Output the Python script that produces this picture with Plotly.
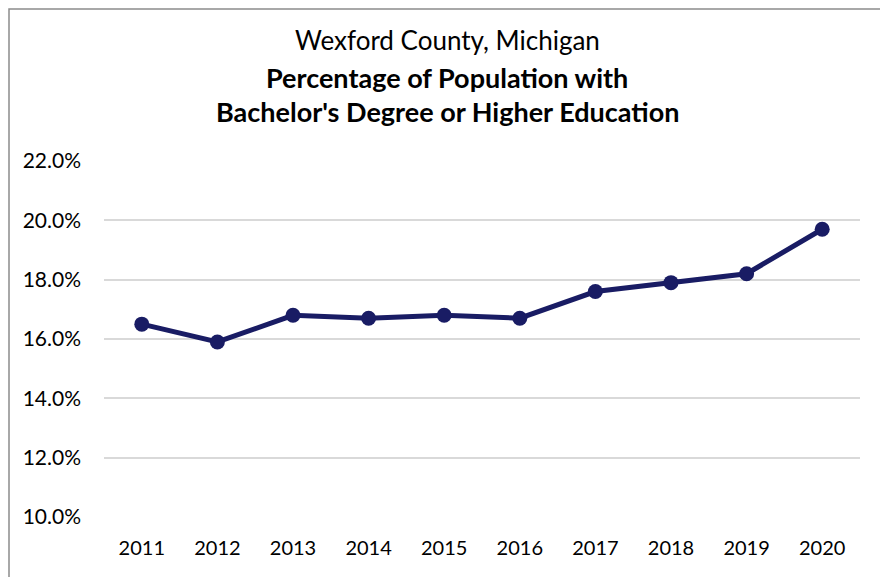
import plotly.graph_objects as go

years = ["2011", "2012", "2013", "2014", "2015", "2016", "2017", "2018", "2019", "2020"]
pct = [16.5, 15.9, 16.8, 16.7, 16.8, 16.7, 17.6, 17.9, 18.2, 19.7]
y_ticks = [10, 12, 14, 16, 18, 20, 22]
y_tick_labels = ["10.0%", "12.0%", "14.0%", "16.0%", "18.0%", "20.0%", "22.0%"]

FONT = "Lato, Carlito, Calibri, sans-serif"
NAVY = "#191c64"

fig = go.Figure()
fig.add_trace(go.Scatter(
    x=years, y=pct, mode="lines+markers",
    line=dict(color=NAVY, width=5),
    marker=dict(color=NAVY, size=15),
    showlegend=False, hoverinfo="x+y",
))

# screen-space plot area (page has 8px body margin)
OFF = 8
PL, PR, PT, PB = 104, 860, 161, 517
W, H = 888 - OFF, 577 - OFF
L = PL - OFF
T = PT - OFF
R = W - (PR - OFF)
B = H - (PB - OFF)
ph = PB - PT
pw = PR - PL

def py(ypix):
    return (PB - ypix) / ph

def px(xpix):
    return (xpix - PL) / pw

fig.update_layout(
    width=W, height=H,
    margin=dict(l=L, r=R, t=T, b=B),
    paper_bgcolor="white", plot_bgcolor="white",
    font=dict(family=FONT, size=20, color="#000000"),
    xaxis=dict(type="category", range=[-0.5, 9.5], showgrid=False, showline=False,
               zeroline=False, ticks="", tickfont=dict(size=20), ticklabelstandoff=17),
    yaxis=dict(range=[10, 22], tickvals=y_ticks, ticktext=y_tick_labels,
               showgrid=True, gridcolor="#d9d9d9", gridwidth=1.5, zeroline=False,
               showline=False, ticks="", tickfont=dict(size=21), ticklabelstandoff=22),
    annotations=[
        dict(text="Wexford County, Michigan", x=px(447), xref="paper", y=py(40), yref="paper",
             xanchor="center", yanchor="middle", showarrow=False, font=dict(size=26, family=FONT)),
        dict(text="<b>Percentage of Population with</b>", x=px(447), xref="paper", y=py(77), yref="paper",
             xanchor="center", yanchor="middle", showarrow=False, font=dict(size=27, family=FONT)),
        dict(text="<b>Bachelor's Degree or Higher Education</b>", x=px(447), xref="paper", y=py(111), yref="paper",
             xanchor="center", yanchor="middle", showarrow=False, font=dict(size=27, family=FONT)),
    ],
    shapes=[
        dict(type="rect", xref="paper", yref="paper",
             x0=px(9), x1=px(888 + 20), y0=py(577 + 20), y1=py(9),
             line=dict(color="#8c8c8c", width=1.5), fillcolor="rgba(0,0,0,0)", layer="above"),
    ],
)

fig.write_html("out.html")
